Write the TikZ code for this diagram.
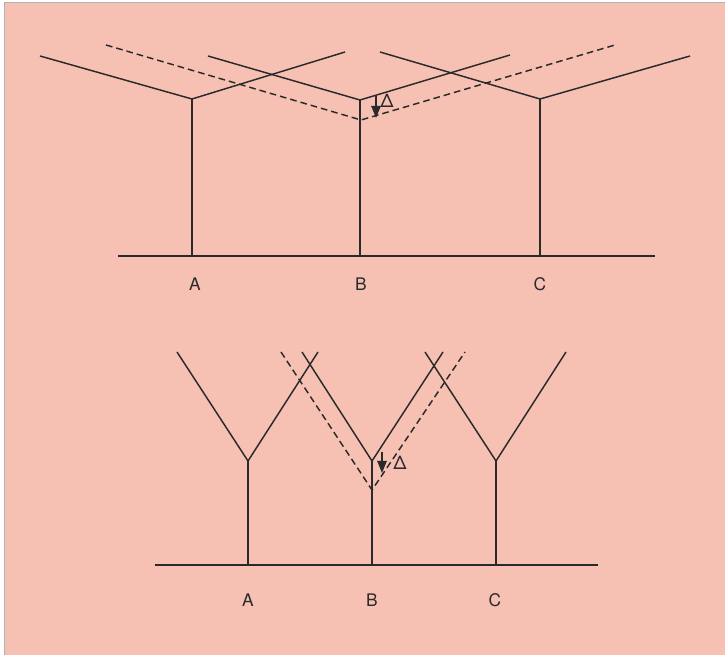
\documentclass[tikz,border=0pt]{standalone}
\usepackage{fontspec}
\setmainfont{TeX Gyre Heros}
\usetikzlibrary{arrows.meta}
\definecolor{bgpink}{HTML}{F6C1B3}
\definecolor{ink}{HTML}{2A2A2A}
\tikzset{
  px/.style={x=0.75pt,y=-0.75pt},
  ln/.style={draw=ink,line width=1.1pt},
  dln/.style={draw=ink,line width=1.1pt,dash pattern=on 5pt off 3pt},
  shift arrow/.style={draw=ink,line width=1.1pt,-{Triangle[length=9pt,width=7pt]}},
  lbl/.style={font=\fontsize{13}{15}\selectfont,text=ink,inner sep=0pt},
  dlbl/.style={font=\fontsize{14}{16}\selectfont,text=ink,inner sep=0pt},
}
\begin{document}
\begin{tikzpicture}[px]
\useasboundingbox (0,0) rectangle (725,655);
\fill[white] (0,0) rectangle (725,655);
\fill[bgpink,draw=gray!60,line width=0.4pt] (4,2) rectangle (726,656);

% ---------- top diagram ----------
\coordinate (tb1) at (118,256);
\coordinate (tb2) at (655,256);
\coordinate (tA) at (192,99);  \coordinate (tAf) at (192,256);
\coordinate (tB) at (360,100); \coordinate (tBf) at (360,256);
\coordinate (tC) at (540,99);  \coordinate (tCf) at (540,256);
\coordinate (tAl) at (40,56);  \coordinate (tAr) at (345,52);
\coordinate (tBl) at (208,56); \coordinate (tBr) at (510,55);
\coordinate (tCl) at (380,52); \coordinate (tCr) at (690,56);
\coordinate (tDl) at (106,45); \coordinate (tD) at (361,120); \coordinate (tDr) at (615,45);
\coordinate (tas) at (376,96); \coordinate (tae) at (376,118);

\draw[ln] (tb1) -- (tb2);
\draw[ln] (tAl) -- (tA) -- (tAr);
\draw[ln] (tA) -- (tAf);
\draw[ln] (tBl) -- (tB) -- (tBr);
\draw[ln] (tB) -- (tBf);
\draw[ln] (tCl) -- (tC) -- (tCr);
\draw[ln] (tC) -- (tCf);
\draw[dln] (tDl) -- (tD) -- (tDr);
\draw[shift arrow] (tas) -- (tae);
\node[dlbl] (tdelta) at (387,101) {Δ};
\node[lbl] (tlA) at (195,284) {A};
\node[lbl] (tlB) at (361,284) {B};
\node[lbl] (tlC) at (540,284) {C};

% ---------- bottom diagram ----------
\coordinate (bb1) at (155,565);
\coordinate (bb2) at (598,565);
\coordinate (bA) at (248,461); \coordinate (bAf) at (248,565);
\coordinate (bB) at (372,461); \coordinate (bBf) at (372,565);
\coordinate (bC) at (496,461); \coordinate (bCf) at (496,565);
\coordinate (bAl) at (177,352); \coordinate (bAr) at (318,352);
\coordinate (bBl) at (302,352); \coordinate (bBr) at (443,352);
\coordinate (bCl) at (425,352); \coordinate (bCr) at (566,352);
\coordinate (bDl) at (281,352); \coordinate (bD) at (372,490); \coordinate (bDr) at (465,352);
\coordinate (bas) at (382,452); \coordinate (bae) at (382,473);

\draw[ln] (bb1) -- (bb2);
\draw[ln] (bAl) -- (bA) -- (bAr);
\draw[ln] (bA) -- (bAf);
\draw[ln] (bBl) -- (bB) -- (bBr);
\draw[ln] (bB) -- (bBf);
\draw[ln] (bCl) -- (bC) -- (bCr);
\draw[ln] (bC) -- (bCf);
\draw[dln] (bDl) -- (bD) -- (bDr);
\draw[shift arrow] (bas) -- (bae);
\node[dlbl] (bdelta) at (400,463) {Δ};
\node[lbl] (blA) at (248,600) {A};
\node[lbl] (blB) at (372,600) {B};
\node[lbl] (blC) at (495,600) {C};
\end{tikzpicture}
\end{document}
